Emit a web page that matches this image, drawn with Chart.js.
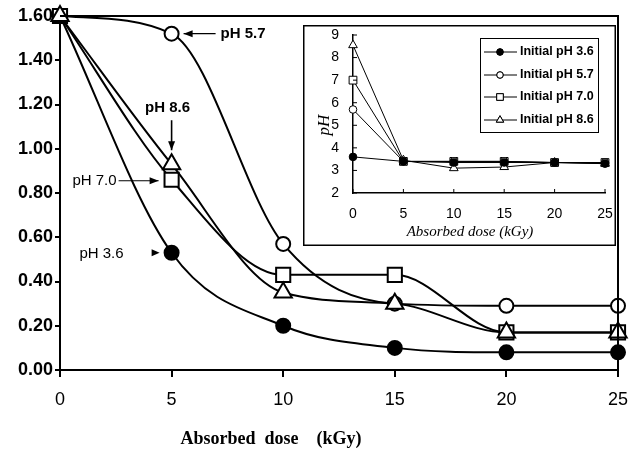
<!DOCTYPE html>
<html><head><meta charset="utf-8">
<script src="https://cdn.jsdelivr.net/npm/chart.js@4.4.0/dist/chart.umd.min.js"></script>
<style>
html,body{margin:0;padding:0;background:#fff;}
#wrap{position:relative;width:630px;height:450px;overflow:hidden;}
#main{position:absolute;left:0;top:0;}
#inset{position:absolute;left:303px;top:25px;}
</style></head><body>
<div id="wrap">
<canvas id="main" width="630" height="450"></canvas>
<canvas id="inset" width="313" height="221"></canvas>
</div>
<script>
// ---- data ----
const doses = [0, 5, 10, 15, 20, 25];
const seriesLabels = ['pH 3.6', 'pH 5.7', 'pH 7.0', 'pH 8.6'];
const absPH36 = [1.60, 0.53, 0.20, 0.10, 0.08, 0.08];
const absPH57 = [1.60, 1.52, 0.57, 0.30, 0.29, 0.29];
const absPH70 = [1.60, 0.86, 0.43, 0.43, 0.17, 0.17];
const absPH86 = [1.60, 0.93, 0.35, 0.30, 0.17, 0.17];
const mainXTitle = 'Absorbed  dose    (kGy)';

const insetLabels = ['Initial pH 3.6', 'Initial pH 5.7', 'Initial pH 7.0', 'Initial pH 8.6'];
const insetPH36 = [3.6, 3.4, 3.35, 3.35, 3.35, 3.3];
const insetPH57 = [5.7, 3.4, 3.4, 3.4, 3.35, 3.35];
const insetPH70 = [7.0, 3.4, 3.4, 3.4, 3.35, 3.35];
const insetPH86 = [8.55, 3.45, 3.1, 3.15, 3.35, 3.3];
const insetXTitle = 'Absorbed dose (kGy)';
const insetYTitle = 'pH';

const pts = (ys) => doses.map((d, i) => ({x: d, y: ys[i]}));

// ---- helpers ----
function arrowHead(ctx, x, y, ang, len, half) {
  ctx.save();
  ctx.translate(x, y); ctx.rotate(ang);
  ctx.beginPath();
  ctx.moveTo(0, 0); ctx.lineTo(-len, -half); ctx.lineTo(-len, half); ctx.closePath();
  ctx.fill();
  ctx.restore();
}
function arrow(ctx, x1, y1, x2, y2) {
  ctx.beginPath(); ctx.moveTo(x1, y1); ctx.lineTo(x2, y2); ctx.stroke();
  arrowHead(ctx, x2, y2, Math.atan2(y2 - y1, x2 - x1), 9, 3.5);
}

const styles = [
  {pointStyle: 'circle', r: 7, bg: '#000', order: 3},
  {pointStyle: 'circle', r: 7, bg: '#fff', order: 2},
  {pointStyle: 'rect', r: 10, bg: '#fff', order: 1},
  {pointStyle: 'triangle', r: 10, bg: '#fff', order: 0}
];
const mainSeries = [absPH36, absPH57, absPH70, absPH86];

const mainPlugin = {
  id: 'mainDeco',
  afterDatasetsDraw(chart) {
    const ctx = chart.ctx, a = chart.chartArea;
    const xs = chart.scales.x, ys = chart.scales.y;
    ctx.save();
    ctx.strokeStyle = '#000'; ctx.lineWidth = 2;
    ctx.beginPath();
    ctx.moveTo(a.left, a.top); ctx.lineTo(a.right, a.top); ctx.lineTo(a.right, a.bottom);
    ctx.stroke();
    ctx.fillStyle = '#000'; ctx.lineWidth = 1.2;
    ctx.textBaseline = 'middle';
    // pH 5.7
    let px = xs.getPixelForValue(doses[1]), py = ys.getPixelForValue(absPH57[1]);
    arrow(ctx, px + 44, py, px + 12, py);
    ctx.font = 'bold 15px "Liberation Sans", Arial'; ctx.textAlign = 'left';
    ctx.fillText(seriesLabels[1], px + 49, py);
    // pH 8.6
    py = ys.getPixelForValue(absPH86[1]);
    ctx.lineWidth = 1.6;
    arrow(ctx, px, py - 44, px, py - 14);
    ctx.textAlign = 'center';
    ctx.fillText(seriesLabels[3], px - 4, py - 56);
    // pH 7.0
    py = ys.getPixelForValue(absPH70[1]);
    ctx.lineWidth = 1.2;
    arrow(ctx, px - 53, py + 1, px - 13, py + 1);
    ctx.font = '15px "Liberation Sans", Arial'; ctx.textAlign = 'right';
    ctx.fillText(seriesLabels[2], px - 55, py + 1);
    // pH 3.6
    py = ys.getPixelForValue(absPH36[1]);
    arrowHead(ctx, px - 12, py, 0, 8, 3.5);
    ctx.fillText(seriesLabels[0], px - 48, py + 1);
    // x title
    ctx.font = 'bold 18px "Liberation Serif", "Times New Roman", serif';
    ctx.textAlign = 'center';
    ctx.fillText(mainXTitle, a.left + 211, 439);
    ctx.restore();
  }
};

new Chart(document.getElementById('main'), {
  type: 'line',
  data: {
    datasets: mainSeries.map((s, i) => ({
      label: seriesLabels[i],
      data: pts(s),
      borderColor: '#000', borderWidth: 2,
      cubicInterpolationMode: 'monotone',
      pointStyle: styles[i].pointStyle, pointRadius: styles[i].r,
      pointBackgroundColor: styles[i].bg, pointBorderColor: '#000', pointBorderWidth: 2,
      order: styles[i].order, fill: false, clip: false
    }))
  },
  options: {
    responsive: false, devicePixelRatio: 1, animation: false,
    layout: {padding: {top: 16, right: 10, left: 0, bottom: 0}},
    plugins: {legend: {display: false}, tooltip: {enabled: false}},
    scales: {
      x: {
        type: 'linear', min: 0, max: 25,
        border: {color: '#000', width: 2},
        grid: {drawOnChartArea: false, drawTicks: true, tickLength: 7, color: '#000', lineWidth: 2},
        ticks: {stepSize: 5, color: '#000', padding: 12, maxRotation: 0, autoSkip: false,
          font: {family: '"Liberation Sans", Arial', size: 18}},
        afterFit(s) { s.height = 80; s.paddingLeft = 0; s.paddingRight = 0; }
      },
      y: {
        min: 0, max: 1.6,
        border: {color: '#000', width: 2},
        grid: {drawOnChartArea: false, drawTicks: true, tickLength: 5, color: '#000', lineWidth: 2},
        ticks: {stepSize: 0.2, color: '#000', padding: 2,
          font: {family: '"Liberation Sans", Arial', size: 18, weight: 'bold'},
          callback: (v) => Number(v).toFixed(2)},
        afterFit(s) { s.width = 60; s.paddingTop = 0; s.paddingBottom = 0; }
      }
    }
  },
  plugins: [mainPlugin]
});

// ---- inset ----
const insetSeries = [insetPH36, insetPH57, insetPH70, insetPH86];
const iStyles = [
  {pointStyle: 'circle', r: 3.8, bg: '#000'},
  {pointStyle: 'circle', r: 3.8, bg: '#fff'},
  {pointStyle: 'rect', r: 5.5, bg: '#fff'},
  {pointStyle: 'triangle', r: 5, bg: '#fff'}
];
const insetPlugin = {
  id: 'insetDeco',
  beforeDraw(chart) {
    const ctx = chart.ctx;
    ctx.save(); ctx.fillStyle = '#fff'; ctx.fillRect(0, 0, chart.width, chart.height); ctx.restore();
  },
  afterDraw(chart) {
    const ctx = chart.ctx, a = chart.chartArea;
    const xs = chart.scales.x, ys = chart.scales.y;
    ctx.save();
    ctx.strokeStyle = '#000'; ctx.lineWidth = 1.5;
    ctx.strokeRect(0.75, 0.75, chart.width - 1.5, chart.height - 1.5);
    // inward tick marks
    ctx.lineWidth = 1;
    ctx.beginPath();
    ys.ticks.forEach(t => { const y = ys.getPixelForValue(t.value); ctx.moveTo(a.left, y); ctx.lineTo(a.left + 4, y); });
    xs.ticks.forEach(t => { const x = xs.getPixelForValue(t.value); ctx.moveTo(x, a.bottom); ctx.lineTo(x, a.bottom - 4); });
    ctx.stroke();
    // titles
    ctx.fillStyle = '#000';
    ctx.textAlign = 'center'; ctx.textBaseline = 'middle';
    ctx.font = 'italic 15px "Liberation Serif", "Times New Roman", serif';
    ctx.fillText(insetXTitle, 167, 207);
    ctx.save(); ctx.translate(22, 100); ctx.rotate(-Math.PI / 2);
    ctx.font = 'italic 17px "Liberation Serif", "Times New Roman", serif';
    ctx.fillText(insetYTitle, 0, 0); ctx.restore();
    // legend
    const lx = 177, ly = 13, lw = 118, lh = 94;
    ctx.fillStyle = '#fff'; ctx.fillRect(lx, ly, lw, lh);
    ctx.strokeStyle = '#000'; ctx.lineWidth = 1;
    ctx.strokeRect(lx + 0.5, ly + 0.5, lw, lh);
    const rows = [27, 50, 72, 95];
    insetLabels.forEach((lab, i) => {
      const y = rows[i];
      ctx.beginPath(); ctx.moveTo(lx + 4, y); ctx.lineTo(lx + 37, y); ctx.stroke();
      Chart.helpers.drawPoint(ctx, {pointStyle: iStyles[i].pointStyle, radius: iStyles[i].r * 0.85, rotation: 0, borderWidth: 1},
        lx + 20, y);
      ctx.fillStyle = iStyles[i].bg; ctx.fill(); ctx.stroke();
      ctx.fillStyle = '#000';
      ctx.font = 'bold 12.5px "Liberation Sans", Arial';
      ctx.textAlign = 'left';
      ctx.fillText(lab, lx + 40, y);
    });
    ctx.restore();
  }
};

new Chart(document.getElementById('inset'), {
  type: 'line',
  data: {
    datasets: insetSeries.map((s, i) => ({
      label: insetLabels[i],
      data: pts(s),
      borderColor: '#000', borderWidth: 1, tension: 0,
      pointStyle: iStyles[i].pointStyle, pointRadius: iStyles[i].r,
      pointBackgroundColor: iStyles[i].bg, pointBorderColor: '#000', pointBorderWidth: 1,
      fill: false, clip: false
    }))
  },
  options: {
    responsive: false, devicePixelRatio: 1, animation: false,
    layout: {padding: {top: 10, right: 11, left: 0, bottom: 0}},
    plugins: {legend: {display: false}, tooltip: {enabled: false}},
    scales: {
      x: {
        type: 'linear', min: 0, max: 25,
        border: {color: '#000', width: 1.5},
        grid: {display: false},
        ticks: {stepSize: 5, color: '#000', padding: 5, maxRotation: 0, autoSkip: false,
          font: {family: '"Liberation Sans", Arial', size: 14}},
        afterFit(s) { s.height = 53; s.paddingLeft = 0; s.paddingRight = 0; }
      },
      y: {
        min: 2, max: 9,
        border: {color: '#000', width: 1.5},
        grid: {display: false},
        ticks: {stepSize: 1, color: '#000', padding: 6,
          font: {family: '"Liberation Sans", Arial', size: 14}},
        afterFit(s) { s.width = 50; s.paddingTop = 0; s.paddingBottom = 0; }
      }
    }
  },
  plugins: [insetPlugin]
});
</script>
</body></html>
